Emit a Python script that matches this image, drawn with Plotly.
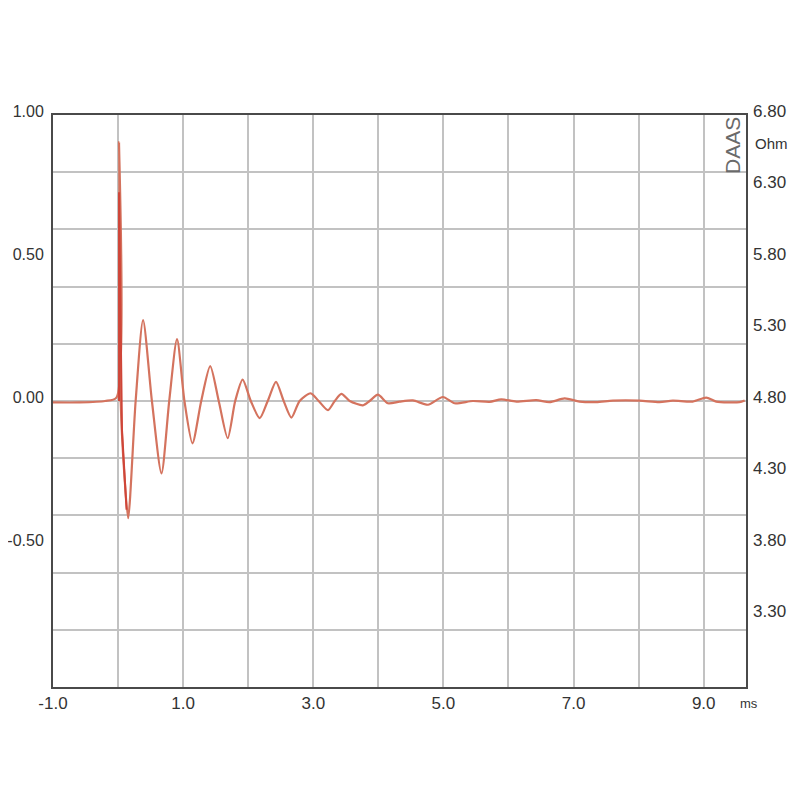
import plotly.graph_objects as go

# ---- data ----
time_ms = [-1.0, -0.59, -0.2, -0.025, 0.015, 0.04, 0.10, 0.155, 0.27, 0.384, 0.52, 0.667,
           0.786, 0.906, 1.02, 1.143, 1.278, 1.416, 1.547, 1.685, 1.80, 1.914, 2.04, 2.177,
           2.30, 2.427, 2.545, 2.664, 2.79, 2.96, 3.083, 3.226, 3.33, 3.432, 3.56, 3.763,
           3.866, 3.994, 4.147, 4.327, 4.531, 4.762, 4.992, 5.172, 5.453, 5.71, 5.889, 6.12,
           6.427, 6.631, 6.862, 7.092, 7.349, 7.604, 8.014, 8.321, 8.525, 8.833, 9.038,
           9.192, 9.55, 9.63]
response = [-0.005, -0.005, 0.0, 0.012, 0.905, 0.0, -0.27, -0.41, 0.0, 0.283, 0.0, -0.253,
            0.0, 0.216, 0.0, -0.148, 0.0, 0.122, 0.0, -0.13, 0.0, 0.075, 0.0, -0.06,
            0.0, 0.067, 0.0, -0.058, 0.0, 0.027, 0.0, -0.032, 0.0, 0.025, 0.0, -0.015,
            0.0, 0.022, -0.008, -0.002, 0.002, -0.013, 0.014, -0.008, 0.0, -0.003, 0.006, -0.002,
            0.003, -0.004, 0.009, -0.002, -0.004, 0.001, 0.001, -0.004, 0.001, -0.002, 0.012,
            -0.002, -0.004, 0.002]

spike_t = [0.015, 0.015, 0.06, 0.13]
spike_v = [0.0, 0.73, -0.1, -0.38]

x_ticks = [-1, 0, 1, 2, 3, 4, 5, 6, 7, 8, 9]
x_labels = ["-1.0", "", "1.0", "", "3.0", "", "5.0", "", "7.0", "", "9.0"]
y_ticks = [1.0, 0.5, 0.0, -0.5]
y_labels = ["1.00", "0.50", "0.00", "-0.50"]
ohm_ticks = [6.8, 6.3, 5.8, 5.3, 4.8, 4.3, 3.8, 3.3]
ohm_labels = ["6.80", "6.30", "5.80", "5.30", "4.80", "4.30", "3.80", "3.30"]

FONT = "Liberation Sans, Arial, sans-serif"
TXT = "#333333"
GRID = "#c2c2c2"
BORDER = "#4a4a4a"

# page body has an 8px margin; size the figure so the plot lands where the reference has it
OFF = 8
W = H = 784
L = 53 - OFF
T = 115 - OFF
R = (OFF + W) - 746
B = (OFF + H) - 687
pw, ph = W - L - R, H - T - B

fig = go.Figure()
fig.add_trace(go.Scatter(x=time_ms, y=response, mode="lines",
                         line=dict(color="#d4735e", width=2.2, shape="spline", smoothing=0.7),
                         hoverinfo="skip", showlegend=False))
fig.add_trace(go.Scatter(x=spike_t, y=spike_v, mode="lines",
                         line=dict(color="#cf4538", width=2),
                         hoverinfo="skip", showlegend=False))
# empty trace so that the right-hand (Ohm) axis is drawn
fig.add_trace(go.Scatter(x=[], y=[], yaxis="y2", hoverinfo="skip", showlegend=False))

fig.update_layout(
    width=W, height=H,
    margin=dict(l=L, r=R, t=T, b=B, pad=0),
    paper_bgcolor="white", plot_bgcolor="white",
    font=dict(family=FONT, size=17, color=TXT),
    showlegend=False,
    xaxis=dict(range=[-1, 9.65], tickvals=x_ticks, ticktext=x_labels,
               showgrid=True, gridcolor=GRID, gridwidth=2, zeroline=False,
               showline=True, linecolor=BORDER, linewidth=2, mirror=True,
               ticks="", ticklabelstandoff=0, automargin=False, fixedrange=True),
    yaxis=dict(range=[-1, 1], tickvals=y_ticks, ticktext=y_labels,
               tickfont=dict(size=16),
               showgrid=False, zeroline=True, zerolinecolor=GRID, zerolinewidth=2,
               minor=dict(tick0=-1, dtick=0.2, showgrid=True, gridcolor=GRID, gridwidth=2),
               showline=True, linecolor=BORDER, linewidth=2, mirror=True,
               ticks="", ticklabelstandoff=4, ticklabelshift=-4, automargin=False,
               fixedrange=True),
    yaxis2=dict(range=[2.8, 6.8], overlaying="y", side="right", anchor="x",
                tickvals=ohm_ticks, ticktext=ohm_labels, showgrid=False, zeroline=False,
                showline=False, ticks="", ticklabelstandoff=6, ticklabelshift=-4,
                automargin=False, fixedrange=True),
)

def px_to_paper(xp, yp):
    return (xp - OFF - L) / pw, (OFF + H - B - yp) / ph

ax, ay = px_to_paper(749, 703)
fig.add_annotation(x=ax, y=ay, xref="paper", yref="paper", text="ms", showarrow=False,
                   font=dict(size=13, color=TXT), xanchor="center", yanchor="middle")
ax, ay = px_to_paper(771, 143)
fig.add_annotation(x=ax, y=ay, xref="paper", yref="paper", text="Ohm", showarrow=False,
                   font=dict(size=15, color=TXT), xanchor="center", yanchor="middle")
ax, ay = px_to_paper(733, 146)
fig.add_annotation(x=ax, y=ay, xref="paper", yref="paper", text="DAAS", showarrow=False,
                   textangle=-90, font=dict(size=21, color="#6a6a6a"),
                   xanchor="center", yanchor="middle")

fig.write_html("out.html")
